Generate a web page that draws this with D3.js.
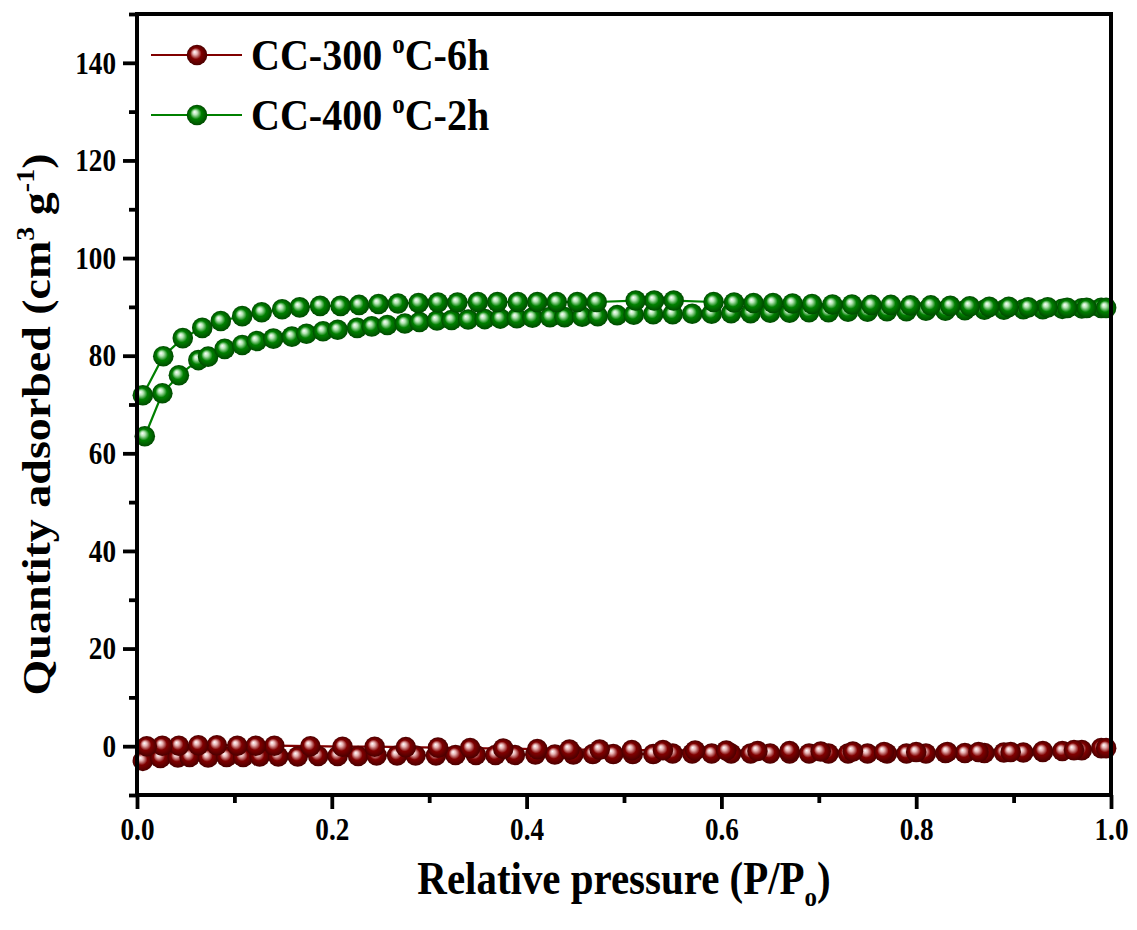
<!DOCTYPE html>
<html>
<head>
<meta charset="utf-8">
<script src="https://cdn.jsdelivr.net/npm/d3@7"></script>
<style>
  html, body { margin: 0; padding: 0; background: #fff; }
  svg text { font-family: "Liberation Serif", "Times New Roman", serif; font-weight: bold; fill: #000; }
</style>
</head>
<body>
<div id="chart"></div>
<script>
// CC-400 oC-2h : adsorption branch (low -> high P) and desorption branch (high -> low P)
const greenAdsX = [0.008, 0.026, 0.043, 0.063, 0.073, 0.090, 0.108, 0.123, 0.140, 0.159, 0.174, 0.191, 0.206, 0.226, 0.241, 0.257, 0.275, 0.290, 0.308, 0.323, 0.340, 0.357, 0.373, 0.390, 0.406, 0.424, 0.439, 0.457, 0.473, 0.493, 0.510, 0.530, 0.550, 0.570, 0.590, 0.610, 0.630, 0.650, 0.670, 0.690, 0.710, 0.730, 0.750, 0.770, 0.790, 0.810, 0.830, 0.850, 0.870, 0.890, 0.910, 0.930, 0.950, 0.970, 0.990];
const greenAdsY = [63.5, 72.3, 76.0, 79.1, 79.8, 81.4, 82.2, 83.0, 83.5, 83.9, 84.5, 85.0, 85.3, 85.7, 86.0, 86.3, 86.6, 86.9, 87.2, 87.3, 87.4, 87.5, 87.6, 87.7, 87.8, 87.9, 87.9, 88.0, 88.1, 88.3, 88.4, 88.5, 88.5, 88.6, 88.6, 88.7, 88.7, 88.8, 88.8, 88.9, 88.9, 89.0, 89.0, 89.1, 89.1, 89.2, 89.2, 89.3, 89.4, 89.4, 89.5, 89.5, 89.6, 89.7, 89.8];
const greenDesX = [0.995, 0.975, 0.955, 0.935, 0.915, 0.895, 0.875, 0.855, 0.835, 0.815, 0.794, 0.774, 0.754, 0.734, 0.714, 0.693, 0.673, 0.653, 0.633, 0.613, 0.592, 0.551, 0.531, 0.512, 0.472, 0.452, 0.431, 0.411, 0.391, 0.370, 0.350, 0.329, 0.309, 0.289, 0.268, 0.248, 0.228, 0.209, 0.188, 0.167, 0.149, 0.128, 0.108, 0.086, 0.067, 0.047, 0.027, 0.006];
const greenDesY = [89.8, 89.8, 89.8, 89.9, 89.9, 90.0, 90.0, 90.1, 90.2, 90.3, 90.3, 90.4, 90.4, 90.5, 90.5, 90.6, 90.7, 90.8, 90.8, 90.9, 91.0, 91.3, 91.3, 91.3, 91.0, 91.0, 91.0, 91.0, 91.0, 91.0, 91.0, 90.9, 90.9, 90.8, 90.7, 90.6, 90.4, 90.2, 90.2, 89.9, 89.5, 88.9, 88.1, 87.1, 85.7, 83.6, 79.9, 71.9];

// CC-300 oC-6h
const redAdsX = [0.006, 0.024, 0.042, 0.054, 0.073, 0.092, 0.109, 0.126, 0.145, 0.165, 0.186, 0.206, 0.227, 0.246, 0.267, 0.286, 0.307, 0.327, 0.348, 0.368, 0.388, 0.409, 0.429, 0.448, 0.468, 0.489, 0.509, 0.530, 0.550, 0.570, 0.590, 0.610, 0.630, 0.650, 0.670, 0.690, 0.710, 0.730, 0.750, 0.770, 0.790, 0.810, 0.830, 0.850, 0.870, 0.890, 0.910, 0.930, 0.950, 0.970, 0.990];
const redAdsY = [-3.0, -2.4, -2.3, -2.2, -2.3, -2.2, -2.2, -2.1, -2.1, -2.1, -2.0, -2.0, -2.0, -1.9, -1.9, -1.9, -1.9, -1.8, -1.8, -1.8, -1.8, -1.7, -1.7, -1.7, -1.6, -1.6, -1.6, -1.6, -1.5, -1.5, -1.5, -1.5, -1.5, -1.5, -1.5, -1.5, -1.5, -1.5, -1.5, -1.5, -1.5, -1.5, -1.4, -1.4, -1.4, -1.3, -1.3, -1.2, -1.0, -0.8, -0.4];
const redDesX = [0.995, 0.962, 0.930, 0.897, 0.864, 0.832, 0.800, 0.767, 0.735, 0.702, 0.670, 0.637, 0.605, 0.573, 0.540, 0.508, 0.475, 0.444, 0.411, 0.376, 0.342, 0.309, 0.276, 0.244, 0.211, 0.178, 0.141, 0.122, 0.103, 0.082, 0.063, 0.043, 0.026, 0.010];
const redDesY = [-0.4, -0.8, -1.0, -1.2, -1.2, -1.2, -1.2, -1.2, -1.1, -1.1, -1.0, -1.0, -0.9, -0.9, -0.8, -0.8, -0.7, -0.7, -0.6, -0.5, -0.4, -0.3, -0.2, -0.1, -0.1, 0.0, 0.1, 0.1, 0.1, 0.2, 0.2, 0.1, 0.1, 0.0];

const xMajor = [0, 0.2, 0.4, 0.6, 0.8, 1.0];
const xMinor = [0.1, 0.3, 0.5, 0.7, 0.9];
const yMajor = [0, 20, 40, 60, 80, 100, 120, 140];
const yMinor = [-10, 10, 30, 50, 70, 90, 110, 130, 150];

const series = [
    {name: "CC-300", temp: "C-6h", color: "#800000", light: "#e8b4b4", dark: "#4a0000", ax: redAdsX, ay: redAdsY, dx: redDesX, dy: redDesY},
    {name: "CC-400", temp: "C-2h", color: "#008000", light: "#b6e6b6", dark: "#004a00", ax: greenAdsX, ay: greenAdsY, dx: greenDesX, dy: greenDesY}
];

const width = 1137, height = 930;
const margin = {top: 14, right: 26, bottom: 135, left: 137};
const squeeze = 0.89; // the reference lettering is narrow (condensed horizontally)

const svg = d3.select("#chart").append("svg")
    .attr("width", width)
    .attr("height", height);

const scaleX = d3.scaleLinear([0, 1], [margin.left, width - margin.right]);
const scaleY = d3.scaleLinear([-10, 150], [height - margin.bottom, margin.top]);

// narrow a text around its own x anchor
function narrow(sel, s = squeeze) {
    sel.each(function() {
        const x = +(this.getAttribute("x") || 0);
        d3.select(this).attr("transform", `translate(${x},0) scale(${s},1) translate(${-x},0)`);
    });
}

// sphere-like marker fills
const defs = svg.append("defs");
series.forEach((s, i) => {
    const g = defs.append("radialGradient")
        .attr("id", "ball" + i)
        .attr("cx", "50%").attr("cy", "50%").attr("r", "50%")
        .attr("fx", "38%").attr("fy", "35%");
    g.append("stop").attr("offset", "0%").attr("stop-color", "#ffffff");
    g.append("stop").attr("offset", "22%").attr("stop-color", s.light);
    g.append("stop").attr("offset", "55%").attr("stop-color", s.color);
    g.append("stop").attr("offset", "100%").attr("stop-color", s.dark);
});

const line = d3.line().x(d => scaleX(d[0])).y(d => scaleY(d[1]));
const plot = svg.append("g");

series.forEach((s, i) => {
    const pts = s.ax.map((x, k) => [x, s.ay[k]])
        .concat(s.dx.map((x, k) => [x, s.dy[k]]));
    plot.append("path")
        .datum(pts)
        .attr("d", line)
        .attr("fill", "none")
        .attr("stroke", s.color)
        .attr("stroke-width", 2.2);
    plot.selectAll("circle.s" + i)
        .data(pts)
        .join("circle")
        .attr("class", "s" + i)
        .attr("cx", d => scaleX(d[0]))
        .attr("cy", d => scaleY(d[1]))
        .attr("r", 10.3)
        .attr("fill", `url(#ball${i})`);
});

// axes
const bottomY = scaleY(-10);
const axisStyle = g => {
    g.select(".domain").remove();
    g.selectAll(".tick line").attr("stroke", "#000").attr("stroke-width", 3.8);
    g.selectAll("text")
        .style("font-size", "32px")
        .style("font-family", "Liberation Serif")
        .style("font-weight", "bold")
        .call(narrow, 0.85);
};

svg.append("g")
    .attr("transform", `translate(0,${bottomY})`)
    .call(d3.axisBottom(scaleX).tickValues(xMinor).tickSize(8).tickFormat(""))
    .call(axisStyle);
svg.append("g")
    .attr("transform", `translate(0,${bottomY})`)
    .call(d3.axisBottom(scaleX).tickValues(xMajor).tickSize(14).tickPadding(8).tickFormat(d3.format(".1f")))
    .call(axisStyle);
svg.append("g")
    .attr("transform", `translate(${margin.left},0)`)
    .call(d3.axisLeft(scaleY).tickValues(yMinor).tickSize(8).tickFormat(""))
    .call(axisStyle);
svg.append("g")
    .attr("transform", `translate(${margin.left},0)`)
    .call(d3.axisLeft(scaleY).tickValues(yMajor).tickSize(14).tickPadding(7).tickFormat(d3.format("d")))
    .call(axisStyle);

// frame
svg.append("rect")
    .attr("x", scaleX(0)).attr("y", scaleY(150))
    .attr("width", scaleX(1) - scaleX(0))
    .attr("height", scaleY(-10) - scaleY(150))
    .attr("fill", "none")
    .attr("stroke", "#000")
    .attr("stroke-width", 4);

// axis titles
const xTitle = svg.append("text")
    .attr("x", (scaleX(0) + scaleX(1)) / 2)
    .attr("y", 894)
    .attr("text-anchor", "middle")
    .style("font-size", "46px");
xTitle.append("tspan").text("Relative pressure (P/P");
xTitle.append("tspan").attr("dy", 12).style("font-size", "28px").text("o");
xTitle.append("tspan").attr("dy", -12).text(")");
xTitle.call(narrow);

const yTitle = svg.append("text")
    .attr("transform", `translate(50,${(scaleY(-10) + scaleY(150)) / 2 + 20}) scale(${squeeze},1) rotate(-90)`)
    .attr("text-anchor", "middle")
    .style("font-size", "46px");
yTitle.append("tspan").text("Quantity adsorbed (cm");
yTitle.append("tspan").attr("dy", -18).style("font-size", "28px").text("3");
yTitle.append("tspan").attr("dy", 18).text(" g");
yTitle.append("tspan").attr("dy", -18).style("font-size", "28px").text("-1");
yTitle.append("tspan").attr("dy", 18).text(")");

// legend
const legend = svg.append("g");
series.forEach((s, i) => {
    const ly = 55 + i * 60;
    legend.append("line")
        .attr("x1", 151).attr("x2", 242)
        .attr("y1", ly).attr("y2", ly)
        .attr("stroke", s.color).attr("stroke-width", 2.2);
    legend.append("circle")
        .attr("cx", 197).attr("cy", ly).attr("r", 10.3)
        .attr("fill", `url(#ball${i})`);
    const t = legend.append("text")
        .attr("x", 251).attr("y", ly + 15)
        .style("font-size", "45px");
    t.append("tspan").text(s.name + " ");
    t.append("tspan").attr("dy", -17).style("font-size", "28px").text("o");
    t.append("tspan").attr("dy", 17).text(s.temp);
    t.call(narrow);
});
</script>
</body>
</html>
